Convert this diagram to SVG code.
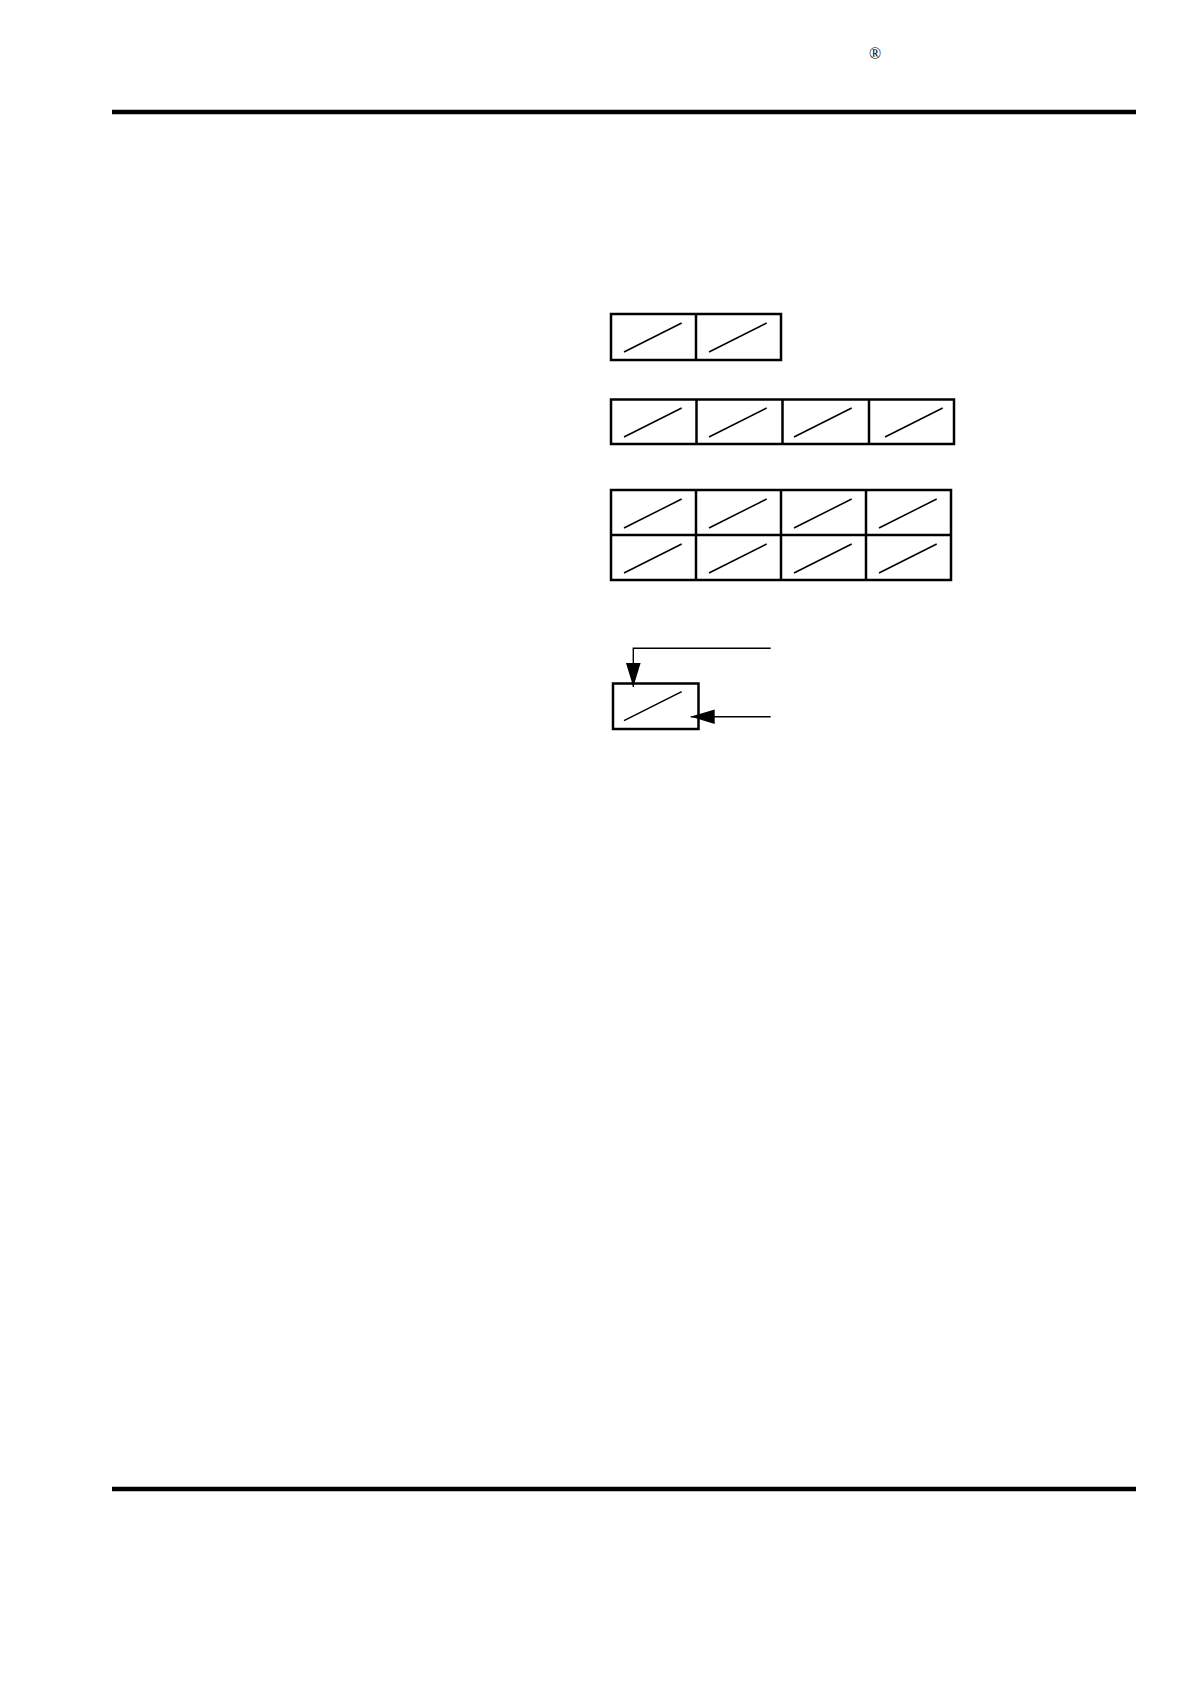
<svg xmlns="http://www.w3.org/2000/svg" width="1190" height="1682" viewBox="0 0 1190 1682">
  <style>
    .box { fill: none; stroke: #000; stroke-width: 2.5; }
    .diag { stroke: #000; stroke-width: 1.5; fill: none; }
    .rule { stroke: #000; stroke-width: 4.5; }
    .conn { stroke: #000; stroke-width: 1.4; fill: none; }
    .mark { font-family: "Liberation Serif", serif; font-size: 16px; fill: #000; }
  </style>
  <defs>
    <marker id="arrow" markerUnits="userSpaceOnUse" markerWidth="24" markerHeight="15" viewBox="0 0 23 14" refX="23" refY="7" orient="auto">
      <path d="M0,0 L23,7 L0,14 Z" fill="#000"/>
    </marker>
    <line id="d" x1="0" y1="0" x2="57.7" y2="-29" class="diag"/>
  </defs>
  <rect width="1190" height="1682" fill="#fff"/>

  <text class="mark" x="875" y="59" text-anchor="middle">®</text>
  <line class="rule" x1="112" y1="112" x2="1136" y2="112"/>
  <line class="rule" x1="112" y1="1489" x2="1136" y2="1489"/>

  <g id="row1">
    <rect class="box" x="611" y="314" width="170" height="46"/>
    <line class="box" x1="696" y1="314" x2="696" y2="360"/>
    <use href="#d" x="624" y="352"/>
    <use href="#d" x="709" y="352"/>
  </g>

  <g id="row2">
    <rect class="box" x="611" y="399.5" width="343" height="44.5"/>
    <line class="box" x1="696.5" y1="399.5" x2="696.5" y2="444"/>
    <line class="box" x1="782.5" y1="399.5" x2="782.5" y2="444"/>
    <line class="box" x1="869" y1="399.5" x2="869" y2="444"/>
    <use href="#d" x="624" y="437"/>
    <use href="#d" x="709" y="437"/>
    <use href="#d" x="794" y="437"/>
    <use href="#d" x="885" y="437"/>
  </g>

  <g id="row3">
    <rect class="box" x="611" y="490" width="340" height="90"/>
    <line class="box" x1="611" y1="535" x2="951" y2="535"/>
    <line class="box" x1="696" y1="490" x2="696" y2="580"/>
    <line class="box" x1="781" y1="490" x2="781" y2="580"/>
    <line class="box" x1="866" y1="490" x2="866" y2="580"/>
    <use href="#d" x="624" y="528"/>
    <use href="#d" x="709" y="528"/>
    <use href="#d" x="794" y="528"/>
    <use href="#d" x="879" y="528"/>
    <use href="#d" x="624" y="573"/>
    <use href="#d" x="709" y="573"/>
    <use href="#d" x="794" y="573"/>
    <use href="#d" x="879" y="573"/>
  </g>

  <g id="cell">
    <rect class="box" x="613" y="683.5" width="85.5" height="45.5"/>
    <use href="#d" x="624" y="720.7"/>
  </g>

  <g id="connectors">
    <path class="conn" d="M770.7,648.3 H633.3 V687" marker-end="url(#arrow)"/>
    <path class="conn" d="M770.7,716.7 H690.7" marker-end="url(#arrow)"/>
  </g>
</svg>
